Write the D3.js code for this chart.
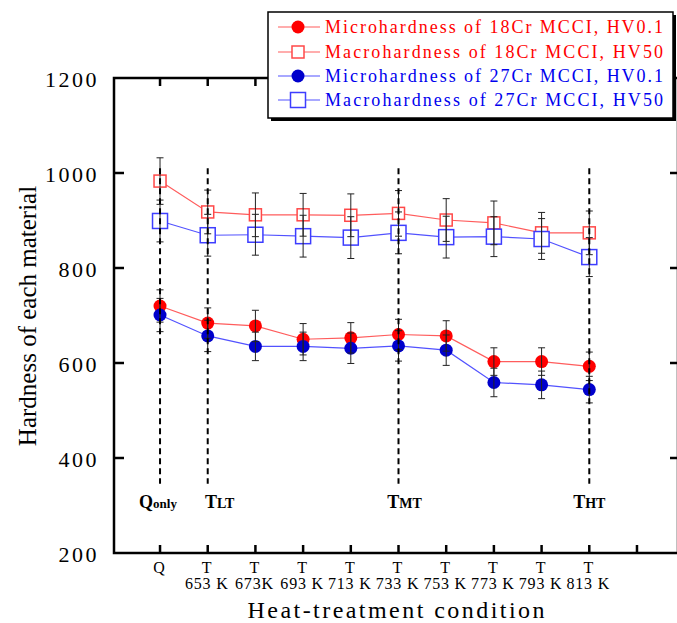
<!DOCTYPE html>
<html>
<head>
<meta charset="utf-8">
<script src="https://d3js.org/d3.v7.min.js"></script>
<style>
body { margin: 0; background: white; }
svg { display: block; font-family: "Liberation Serif", "Times New Roman", serif; }
</style>
</head>
<body>
<svg id="chart" width="677" height="623"></svg>
<script>
// categories (two-line tick labels)
var catTop = ["Q", "T", "T", "T", "T", "T", "T", "T", "T", "T"];
var catBottom = ["", "653 K", "673K", "693 K", "713 K", "733 K", "753 K", "773 K", "793 K", "813 K"];

// hardness values
var micro18 = [720, 684, 678, 650, 653, 660, 657, 603, 603, 593];
var macro18 = [983, 918, 912, 912, 911, 915, 901, 895, 874, 874];
var micro27 = [701, 657, 635, 635, 631, 636, 627, 559, 554, 544];
var macro27 = [899, 869, 870, 867, 864, 874, 865, 866, 861, 823];

// error bar half-lengths
var micro18Err = [34, 32, 33, 33, 32, 32, 32, 29, 29, 30];
var macro18Err = [49, 46, 46, 45, 45, 48, 45, 46, 43, 46];
var micro27Err = [35, 33, 30, 30, 32, 32, 32, 30, 29, 28];
var macro27Err = [44, 44, 43, 44, 44, 44, 44, 42, 43, 41];

var yTicks = [200, 400, 600, 800, 1000, 1200];

// marked heat treatments: index + label
var marks = [
  { i: 0, main: "Q", sub: "only" },
  { i: 1, main: "T", sub: "LT" },
  { i: 5, main: "T", sub: "MT" },
  { i: 9, main: "T", sub: "HT" }
];

var legendNames = [
  "Microhardness of 18Cr MCCI, HV0.1",
  "Macrohardness of 18Cr MCCI, HV50",
  "Microhardness of 27Cr MCCI, HV0.1",
  "Macrohardness of 27Cr MCCI, HV50"
];

var series = [
  { vals: micro18, err: micro18Err, line: "#ff5c5c", color: "#ff0000", shape: "circle", text: "#ff0000" },
  { vals: macro18, err: macro18Err, line: "#ff5c5c", color: "#ff4848", shape: "square", size: 12, text: "#ff0000" },
  { vals: micro27, err: micro27Err, line: "#5252ff", color: "#0000cc", shape: "circle", text: "#0000ee" },
  { vals: macro27, err: macro27Err, line: "#5252ff", color: "#3d3dff", shape: "square", size: 15, text: "#0000ee" }
];

var svg = d3.select("#chart");

var x = d3.scaleLinear().domain([-0.965, 10.86]).range([114, 678]);
var y = d3.scaleLinear().domain([200, 1200]).range([553, 78]);
var idx = d3.range(catTop.length);

// frame
var frame = svg.append("g");
frame.append("rect")
  .attr("x", x(-0.965)).attr("y", y(1200))
  .attr("width", x(10.86) - x(-0.965)).attr("height", y(200) - y(1200))
  .attr("fill", "none").attr("stroke", "#000").attr("stroke-width", 2.5);

// bottom axis ticks (inward) and top mirror ticks
var xt = idx.concat([10]);
frame.selectAll(".xb").data(xt).enter().append("line")
  .attr("x1", function(d) { return x(d); }).attr("x2", function(d) { return x(d); })
  .attr("y1", y(200)).attr("y2", y(200) - 8)
  .attr("stroke", "#000").attr("stroke-width", 2.5);
frame.selectAll(".xt").data(xt).enter().append("line")
  .attr("x1", function(d) { return x(d); }).attr("x2", function(d) { return x(d); })
  .attr("y1", y(1200)).attr("y2", y(1200) + 8)
  .attr("stroke", "#000").attr("stroke-width", 2.5);

// y ticks, left and right, inward
var inner = yTicks.slice(1, -1);
frame.selectAll(".yl").data(inner).enter().append("line")
  .attr("x1", x(-0.965)).attr("x2", x(-0.965) + 10)
  .attr("y1", function(d) { return y(d); }).attr("y2", function(d) { return y(d); })
  .attr("stroke", "#000").attr("stroke-width", 2.5);
frame.selectAll(".yr").data(inner).enter().append("line")
  .attr("x1", x(10.86)).attr("x2", x(10.86) - 8)
  .attr("y1", function(d) { return y(d); }).attr("y2", function(d) { return y(d); })
  .attr("stroke", "#000").attr("stroke-width", 2.5);

// y tick labels
svg.selectAll(".ylab").data(yTicks).enter().append("text")
  .attr("x", 99).attr("y", function(d) { return y(d) + 9; })
  .attr("text-anchor", "end").attr("font-size", 22).attr("letter-spacing", 2.5)
  .text(function(d) { return d; });

// x tick labels
svg.selectAll(".xl1").data(idx).enter().append("text")
  .attr("x", function(d) { return x(d) - 1; }).attr("y", 573)
  .attr("text-anchor", "middle").attr("font-size", 16)
  .text(function(d) { return catTop[d]; });
svg.selectAll(".xl2").data(idx).enter().append("text")
  .attr("x", function(d) { return x(d) - 1; }).attr("y", 589)
  .attr("text-anchor", "middle").attr("font-size", 16).attr("letter-spacing", 0.8)
  .text(function(d) { return catBottom[d]; });

// axis titles
svg.append("text")
  .attr("x", 396).attr("y", 618)
  .attr("text-anchor", "middle").attr("font-size", 24)
  .attr("textLength", 297).attr("lengthAdjust", "spacing")
  .text("Heat-treatment condition");
svg.append("text")
  .attr("transform", "translate(36,316) rotate(-90)")
  .attr("text-anchor", "middle").attr("font-size", 25)
  .text("Hardness of each material");

// series lines
var line = d3.line().x(function(d, i) { return x(i); }).y(function(d) { return y(d); });
series.forEach(function(s) {
  svg.append("path").datum(s.vals)
    .attr("d", line).attr("fill", "none")
    .attr("stroke", s.line).attr("stroke-width", 1.2);
});

// markers
function drawMarker(g, s, cx, cy) {
  if (s.shape === "circle") {
    g.append("circle").attr("cx", cx).attr("cy", cy).attr("r", 6.5).attr("fill", s.color);
  } else {
    g.append("rect")
      .attr("x", cx - s.size / 2).attr("y", cy - s.size / 2)
      .attr("width", s.size).attr("height", s.size)
      .attr("fill", "#fff").attr("stroke", s.color).attr("stroke-width", 1.5);
  }
}
series.forEach(function(s) {
  var g = svg.append("g");
  s.vals.forEach(function(v, i) { drawMarker(g, s, x(i), y(v)); });
});

// error bars
series.forEach(function(s) {
  var g = svg.append("g").attr("stroke", "#222").attr("stroke-width", 1);
  s.vals.forEach(function(v, i) {
    var lo = y(v - s.err[i]), hi = y(v + s.err[i]);
    g.append("line").attr("x1", x(i)).attr("x2", x(i)).attr("y1", lo).attr("y2", hi);
    g.append("line").attr("x1", x(i) - 3.5).attr("x2", x(i) + 3.5).attr("y1", lo).attr("y2", lo);
    g.append("line").attr("x1", x(i) - 3.5).attr("x2", x(i) + 3.5).attr("y1", hi).attr("y2", hi);
  });
});

// dashed guide lines and their labels
svg.selectAll(".guide").data(marks).enter().append("line")
  .attr("x1", function(d) { return x(d.i); }).attr("x2", function(d) { return x(d.i); })
  .attr("y1", y(1010)).attr("y2", y(346))
  .attr("stroke", "#000").attr("stroke-width", 2).attr("stroke-dasharray", "6,4");

var labelDx = [-2, 12, 6, 0];
marks.forEach(function(m, k) {
  var t = svg.append("text")
    .attr("x", x(m.i) + labelDx[k]).attr("y", 508)
    .attr("text-anchor", "middle").attr("font-weight", "bold");
  t.append("tspan").attr("font-size", 18).text(m.main);
  t.append("tspan").attr("font-size", m.sub === "only" ? 13 : 14).text(m.sub);
});

// legend
var lg = svg.append("g");
lg.append("rect").attr("x", 271).attr("y", 15).attr("width", 405).attr("height", 106).attr("fill", "#000");
lg.append("rect").attr("x", 268).attr("y", 12).attr("width", 405).attr("height", 106)
  .attr("fill", "#fff").attr("stroke", "#000").attr("stroke-width", 1.5);
var rowY = [27, 52, 76, 100];
series.forEach(function(s, k) {
  var ry = rowY[k];
  lg.append("line").attr("x1", 278).attr("x2", 320).attr("y1", ry).attr("y2", ry)
    .attr("stroke", s.line).attr("stroke-width", 1.2);
  drawMarker(lg, s, 298, ry);
  lg.append("text").attr("x", 325).attr("y", ry + 6)
    .attr("font-size", 18).attr("fill", s.text)
    .attr("textLength", 338).attr("lengthAdjust", "spacing")
    .text(legendNames[k]);
});
</script>
</body>
</html>
